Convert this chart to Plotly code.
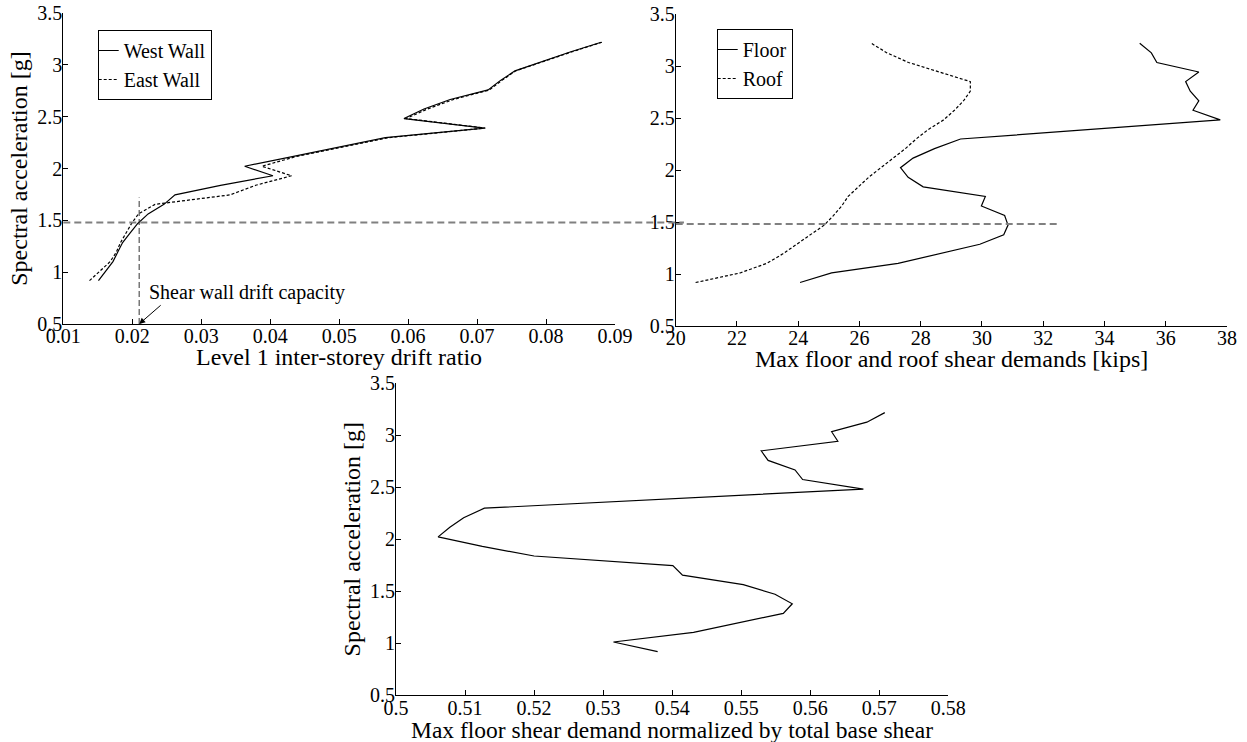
import plotly.graph_objects as go

# Spectral acceleration levels of the incremental dynamic analysis [g]
sa = [0.918, 1.010, 1.102, 1.194, 1.286, 1.378, 1.470, 1.562, 1.654, 1.746,
      1.838, 1.930, 2.022, 2.114, 2.206, 2.298, 2.390, 2.482, 2.574, 2.666,
      2.758, 2.850, 2.942, 3.034, 3.126, 3.218]

# Level 1 inter-storey drift ratio of each wall line
west_drift = [0.0151, 0.0162, 0.0172, 0.0179, 0.0186, 0.0197, 0.0208, 0.0223, 0.0246, 0.0262,
              0.0328, 0.0404, 0.0363, 0.0432, 0.0499, 0.0567, 0.0711, 0.0594, 0.0623, 0.0661,
              0.0716, 0.0734, 0.0755, 0.0794, 0.0836, 0.0880]
east_drift = [0.0138, 0.0153, 0.0168, 0.0177, 0.0183, 0.0191, 0.0199, 0.0209, 0.0233, 0.0342,
              0.0379, 0.0431, 0.0388, 0.0437, 0.0503, 0.0572, 0.0712, 0.0597, 0.0628, 0.0666,
              0.0718, 0.0736, 0.0756, 0.0796, 0.0838, 0.0881]

# Peak diaphragm shear demands [kips]
floor_shear = [24.06, 25.09, 27.26, 28.60, 29.93, 30.71, 30.85, 30.74, 29.98, 30.11,
               28.08, 27.59, 27.34, 27.75, 28.45, 29.30, 33.50, 37.78, 36.89, 37.08,
               36.80, 36.65, 37.08, 35.71, 35.53, 35.15]
roof_shear = [20.65, 22.10, 22.97, 23.50, 23.95, 24.40, 24.85, 25.15, 25.42, 25.63,
              25.95, 26.30, 26.70, 27.10, 27.50, 27.85, 28.25, 28.75, 29.10, 29.40,
              29.62, 29.62, 28.60, 27.60, 26.90, 26.39]

# Peak floor shear divided by the total base shear
floor_norm = [0.5379, 0.5315, 0.5431, 0.5496, 0.5561, 0.5574, 0.5549, 0.5503, 0.5415, 0.5401,
              0.5200, 0.5125, 0.5061, 0.5078, 0.5098, 0.5128, 0.5400, 0.5677, 0.5589, 0.5578,
              0.5539, 0.5529, 0.5640, 0.5631, 0.5682, 0.5708]

drift_capacity = 0.021      # shear wall drift capacity
capacity_sa = 1.48          # Sa at which the capacity is reached
capacity_line_top = 1.72    # upper end of the vertical capacity marker
shear_line_end = 32.45      # extent of the reference line on the shear plot

drift_ticks = [0.01, 0.02, 0.03, 0.04, 0.05, 0.06, 0.07, 0.08, 0.09]
shear_ticks = [20, 22, 24, 26, 28, 30, 32, 34, 36, 38]
norm_ticks = [0.5, 0.51, 0.52, 0.53, 0.54, 0.55, 0.56, 0.57, 0.58]
sa_ticks = [0.5, 1, 1.5, 2, 2.5, 3, 3.5]

W, H = 1247, 742
FONT = "Liberation Serif"
TICK_FS = 20
TITLE_FS = 24

fig = go.Figure()

solid = dict(color="black", width=1.2)
dashed = dict(color="black", width=1.2, dash="3px,2px")

fig.add_trace(go.Scatter(x=west_drift, y=sa, mode="lines", name="West Wall",
                         line=solid, xaxis="x", yaxis="y", legend="legend"))
fig.add_trace(go.Scatter(x=east_drift, y=sa, mode="lines", name="East Wall",
                         line=dashed, xaxis="x", yaxis="y", legend="legend"))
fig.add_trace(go.Scatter(x=floor_shear, y=sa, mode="lines", name="Floor",
                         line=solid, xaxis="x2", yaxis="y2", legend="legend2"))
fig.add_trace(go.Scatter(x=roof_shear, y=sa, mode="lines", name="Roof",
                         line=dashed, xaxis="x2", yaxis="y2", legend="legend2"))
fig.add_trace(go.Scatter(x=floor_norm, y=sa, mode="lines", showlegend=False,
                         line=solid, xaxis="x3", yaxis="y3"))


def axis_style(**kw):
    base = dict(
        showgrid=False, zeroline=False, showline=True, linecolor="black", linewidth=1,
        ticks="inside", ticklen=5, tickwidth=1, tickcolor="black",
        tickfont=dict(family=FONT, size=TICK_FS, color="black"),
        mirror=False, automargin=False,
    )
    base.update(kw)
    return base


def ytitle(text):
    return dict(text=text, font=dict(family=FONT, size=TITLE_FS, color="black"), standoff=2)


def labels(vals):
    return [f"{v:g}" for v in vals]


fig.update_layout(
    template="none",
    width=W, height=H,
    margin=dict(l=0, r=0, t=0, b=0, autoexpand=False),
    paper_bgcolor="white", plot_bgcolor="white",
    font=dict(family=FONT, size=TICK_FS, color="black"),
    xaxis=axis_style(domain=[63.3 / W, 615 / W], range=[0.01, 0.09], tickvals=drift_ticks,
                     ticktext=labels(drift_ticks), anchor="y", ticklabelstandoff=-6),
    yaxis=axis_style(domain=[1 - 324 / H, 1 - 13 / H], range=[0.5, 3.5], tickvals=sa_ticks,
                     ticktext=labels(sa_ticks), anchor="x", ticklabelstandoff=-4,
                     title=ytitle("Spectral acceleration [g]")),
    xaxis2=axis_style(domain=[675.7 / W, 1227 / W], range=[20, 38], tickvals=shear_ticks,
                      ticktext=labels(shear_ticks), anchor="y2", ticklabelstandoff=-6),
    yaxis2=axis_style(domain=[1 - 326 / H, 1 - 14 / H], range=[0.5, 3.5], tickvals=sa_ticks,
                      ticktext=labels(sa_ticks), anchor="x2", ticklabelstandoff=-4),
    xaxis3=axis_style(domain=[396 / W, 948.3 / W], range=[0.5, 0.58], tickvals=norm_ticks,
                      ticktext=labels(norm_ticks), anchor="y3", ticklabelstandoff=-5),
    yaxis3=axis_style(domain=[1 - 695 / H, 1 - 383.3 / H], range=[0.5, 3.5], tickvals=sa_ticks,
                      ticktext=labels(sa_ticks), anchor="x3", ticklabelstandoff=-4,
                      title=ytitle("Spectral acceleration [g]")),
    legend=dict(x=97.7 / W, y=1 - 30 / H, xanchor="left", yanchor="top",
                bordercolor="black", borderwidth=1, bgcolor="white",
                font=dict(family=FONT, size=20, color="black"),
                itemwidth=30, indentation=-15, tracegroupgap=0),
    legend2=dict(x=716.7 / W, y=1 - 29 / H, xanchor="left", yanchor="top",
                 bordercolor="black", borderwidth=1, bgcolor="white",
                 font=dict(family=FONT, size=20, color="black"),
                 itemwidth=30, indentation=-15, tracegroupgap=0),
)

# x-axis titles, centred under each axis
x_titles = [
    ("x", "y", "Level 1 inter-storey drift ratio", 24, -33),
    ("x2", "y2", "Max floor and roof shear demands [kips]", 24, -33),
    ("x3", "y3", "Max floor shear demand normalized by total base shear", 23.5, -35),
]
for xa, ya, text, size, shift in x_titles:
    fig.add_annotation(xref=f"{xa} domain", yref=f"{ya} domain", x=0.5, y=0,
                       yshift=shift, text=text, showarrow=False,
                       xanchor="center", yanchor="middle",
                       font=dict(family=FONT, size=size, color="black"))

# Reference line at the Sa where the drift capacity is reached
grey_dash = dict(color="#808080", width=2, dash="7px,4px")
fig.add_shape(type="line", xref="x domain", yref="y", x0=0, x1=1.125,
              y0=capacity_sa, y1=capacity_sa, line=grey_dash, layer="above")
fig.add_shape(type="line", xref="x2", yref="y2", x0=20, x1=shear_line_end,
              y0=capacity_sa, y1=capacity_sa, line=grey_dash, layer="above")

# Drift capacity marker
fig.add_shape(type="line", xref="x", yref="y", x0=drift_capacity, x1=drift_capacity,
              y0=0.5, y1=capacity_line_top,
              line=dict(color="#333333", width=1, dash="6px,3px"), layer="above")

fig.add_annotation(x=drift_capacity, y=0.5, xref="x", yref="y", text="",
                   showarrow=True, ax=23, ay=-20, arrowhead=2, arrowsize=1.2,
                   arrowwidth=1, arrowcolor="black")
fig.add_annotation(x=0.0222, y=0.80, xref="x", yref="y", text="Shear wall drift capacity",
                   showarrow=False, xanchor="left", yanchor="middle",
                   font=dict(family=FONT, size=20, color="black"))

fig.write_html("out.html")
